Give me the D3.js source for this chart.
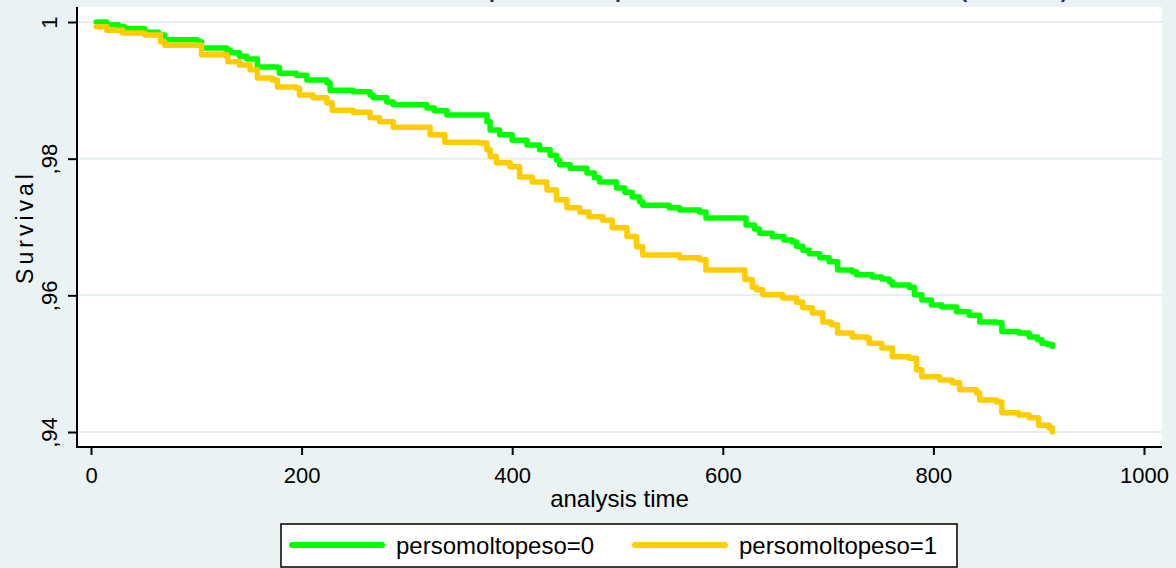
<!DOCTYPE html>
<html lang="en">
<head>
    <meta charset="UTF-8">
    <title>Survival by persomoltopeso</title>
    <script src="https://cdn.jsdelivr.net/npm/d3@7/dist/d3.min.js"></script>
    <style>
        body { margin: 0; background: #eaf2f3; }
        svg { display: block; font-family: "Liberation Sans", Arial, sans-serif; }
        .tick text { fill: #000; }
    </style>
</head>
<body>
    <svg width="1176" height="568"></svg>
    <script>
        // Kaplan-Meier steps (time, survival after the step)
        var time0 = [5, 15, 26, 32, 51, 64, 70, 101, 105, 129, 132, 141, 148, 158, 177, 179, 195, 205, 224, 227,
            249, 265, 268, 281, 287, 319, 326, 338, 376, 379, 388, 400, 414, 426, 436, 442, 445, 455, 471, 478,
            483, 499, 507, 514, 521, 524, 549, 559, 578, 584, 622, 630, 635, 647, 658, 666, 670, 676, 682, 692,
            701, 709, 723, 727, 742, 751, 758, 761, 777, 782, 789, 798, 808, 822, 834, 844, 860, 865, 881, 891,
            899, 903, 908, 913];
        var surv0 = [1, 0.9996, 0.9993, 0.9990, 0.9985, 0.9981, 0.9974, 0.9971, 0.9962, 0.9959, 0.9955, 0.9950, 0.9946, 0.9934, 0.9933, 0.9925, 0.9922, 0.9915, 0.9911, 0.9900,
            0.9898, 0.9893, 0.9889, 0.9883, 0.9879, 0.9874, 0.9870, 0.9864, 0.9854, 0.9842, 0.9835, 0.9827, 0.9820, 0.9813, 0.9805, 0.9798, 0.9791, 0.9786, 0.9779, 0.9772,
            0.9766, 0.9757, 0.9751, 0.9744, 0.9737, 0.9732, 0.9728, 0.9725, 0.9722, 0.9713, 0.9703, 0.9697, 0.9691, 0.9686, 0.9681, 0.9678, 0.9672, 0.9666, 0.9661, 0.9655,
            0.9649, 0.9637, 0.9634, 0.9630, 0.9627, 0.9624, 0.9620, 0.9615, 0.9612, 0.9601, 0.9593, 0.9586, 0.9583, 0.9576, 0.9571, 0.9561, 0.9560, 0.9547, 0.9545, 0.9539,
            0.9535, 0.9530, 0.9528, 0.9525];

        var time1 = [5, 15, 30, 51, 66, 70, 105, 129, 130, 141, 151, 158, 172, 177, 195, 198, 211, 224, 229, 249,
            265, 274, 287, 322, 336, 369, 376, 379, 385, 398, 407, 419, 433, 442, 452, 464, 473, 486, 495, 509,
            518, 524, 559, 578, 584, 621, 628, 632, 638, 657, 670, 676, 685, 695, 703, 709, 723, 736, 739, 751,
            761, 777, 784, 789, 806, 818, 825, 841, 844, 860, 865, 881, 891, 900, 910, 913];
        var surv1 = [0.9993, 0.9988, 0.9984, 0.9981, 0.9971, 0.9966, 0.9952, 0.9949, 0.9942, 0.9937, 0.9930, 0.9918, 0.9915, 0.9905, 0.9903, 0.9893, 0.9889, 0.9882, 0.9871, 0.9868,
            0.9860, 0.9854, 0.9846, 0.9835, 0.9824, 0.9823, 0.9813, 0.9803, 0.9794, 0.9788, 0.9773, 0.9766, 0.9754, 0.9740, 0.9728, 0.9722, 0.9715, 0.9710, 0.9699, 0.9686,
            0.9671, 0.9659, 0.9655, 0.9652, 0.9637, 0.9623, 0.9612, 0.9608, 0.9601, 0.9596, 0.9590, 0.9582, 0.9574, 0.9561, 0.9557, 0.9545, 0.9539, 0.9538, 0.9530, 0.9523,
            0.9510, 0.9508, 0.9491, 0.9481, 0.9476, 0.9472, 0.9462, 0.9457, 0.9447, 0.9444, 0.9428, 0.9425, 0.9421, 0.9410, 0.9406, 0.9400];

        var xTicks = [0, 200, 400, 600, 800, 1000];
        var yTicks = [0.94, 0.96, 0.98, 1];
        var yTickLabels = [",94", ",96", ",98", "1"];
        var groupLabels = ["persomoltopeso=0", "persomoltopeso=1"];
        var groupColors = ["#00ff00", "#ffcc00"];

        var svg = d3.select("svg");
        var font = "22px";

        // plot region (note: "top" is taken by window.top)
        var pLeft = 77, pRight = 1162, pTop = 7, pBottom = 447;

        var x = d3.scaleLinear().domain([0, 1000]).range([91, 1144]);
        var y = d3.scaleLinear().domain([0.94, 1]).range([432, 22]);

        svg.append("rect")
            .attr("x", pLeft).attr("y", pTop)
            .attr("width", pRight - pLeft).attr("height", pBottom - pTop)
            .attr("fill", "#fff");

        // title sits mostly above the window, only the descenders show
        svg.append("text")
            .attr("x", 336)
            .attr("y", -2)
            .attr("font-size", "21px")
            .attr("font-weight", "bold")
            .attr("fill", "#1c2f5e")
            .text("Analisi della sopravvivenza per chi ha subito un notevole calo (stime KM)");

        svg.selectAll(".grid")
            .data(yTicks)
            .enter().append("line")
            .attr("class", "grid")
            .attr("x1", pLeft).attr("x2", pRight)
            .attr("y1", function(d) { return y(d); })
            .attr("y2", function(d) { return y(d); })
            .attr("stroke", "#e6eef1")
            .attr("stroke-width", 2);

        // y axis
        var gy = svg.append("g")
            .attr("transform", "translate(" + pLeft + ",0)")
            .call(d3.axisLeft(y).tickValues(yTicks)
                .tickFormat(function(d, i) { return yTickLabels[i]; })
                .tickSize(9).tickSizeOuter(0));
        gy.select(".domain").remove();
        gy.selectAll(".tick line").attr("stroke", "#000").attr("stroke-width", 2);
        gy.selectAll(".tick text")
            .attr("x", null).attr("dy", null)
            .attr("transform", "translate(-20,0) rotate(-90)")
            .attr("text-anchor", "middle")
            .attr("font-size", font)
            .attr("font-family", "Liberation Sans, Arial, sans-serif");

        // x axis
        var gx = svg.append("g")
            .attr("transform", "translate(0," + pBottom + ")")
            .call(d3.axisBottom(x).tickValues(xTicks).tickFormat(d3.format("d"))
                .tickSize(8).tickPadding(12).tickSizeOuter(0));
        gx.select(".domain").remove();
        gx.selectAll(".tick line").attr("stroke", "#000").attr("stroke-width", 2);
        gx.selectAll(".tick text")
            .attr("font-size", font)
            .attr("font-family", "Liberation Sans, Arial, sans-serif");

        svg.append("line")
            .attr("x1", pLeft).attr("x2", pLeft).attr("y1", pTop).attr("y2", pBottom + 1)
            .attr("stroke", "#000").attr("stroke-width", 2);
        svg.append("line")
            .attr("x1", pLeft - 1).attr("x2", pRight).attr("y1", pBottom).attr("y2", pBottom)
            .attr("stroke", "#000").attr("stroke-width", 2);

        svg.append("text")
            .attr("transform", "translate(33," + ((pTop + pBottom) / 2) + ") rotate(-90)")
            .attr("text-anchor", "middle")
            .attr("font-size", "23px")
            .attr("letter-spacing", "4px")
            .text("Survival");

        svg.append("text")
            .attr("x", (pLeft + pRight) / 2)
            .attr("y", 507)
            .attr("text-anchor", "middle")
            .attr("font-size", "24px")
            .text("analysis time");

        // curves
        var line = d3.line()
            .x(function(d) { return x(d[0]); })
            .y(function(d) { return y(d[1]); })
            .curve(d3.curveStepAfter);

        var series = [d3.zip(time0, surv0), d3.zip(time1, surv1)];

        svg.selectAll(".km")
            .data(series)
            .enter().append("path")
            .attr("class", "km")
            .attr("d", line)
            .attr("fill", "none")
            .attr("stroke", function(d, i) { return groupColors[i]; })
            .attr("stroke-width", 5.5)
            .attr("stroke-linejoin", "round")
            .attr("stroke-linecap", "round");

        // legend
        var lg = svg.append("g");
        lg.append("rect")
            .attr("x", 281).attr("y", 524)
            .attr("width", 676).attr("height", 43)
            .attr("fill", "#fff")
            .attr("stroke", "#000").attr("stroke-width", 1.5);

        var keyX = [292, 635];
        groupLabels.forEach(function(lab, i) {
            lg.append("line")
                .attr("x1", keyX[i]).attr("x2", keyX[i] + 90)
                .attr("y1", 545).attr("y2", 545)
                .attr("stroke", groupColors[i])
                .attr("stroke-width", 6)
                .attr("stroke-linecap", "round");
            lg.append("text")
                .attr("x", keyX[i] + 104)
                .attr("y", 554)
                .attr("font-size", "24px")
                .text(lab);
        });
    </script>
</body>
</html>
